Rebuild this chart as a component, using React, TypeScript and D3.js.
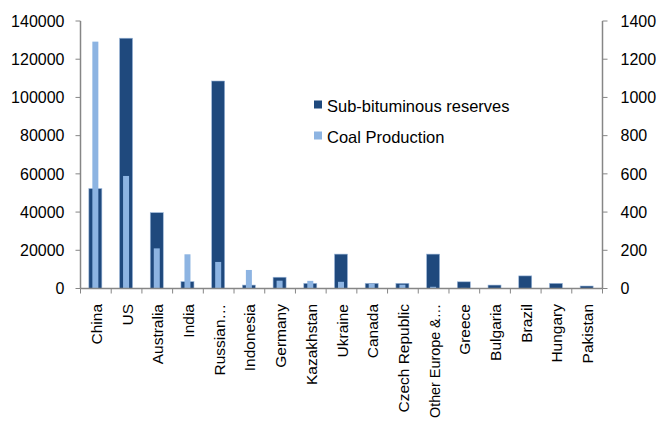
import React from 'react';
import * as d3 from 'd3';

const countries = [
	'China', 'US', 'Australia', 'India', 'Russian…', 'Indonesia', 'Germany', 'Kazakhstan',
	'Ukraine', 'Canada', 'Czech Republic', 'Other Europe &…', 'Greece', 'Bulgaria', 'Brazil',
	'Hungary', 'Pakistan',
];
// left axis
const reserves = [52300, 131000, 39700, 3600, 108600, 1800, 5900, 2700, 18000, 2700, 2700, 18000, 3500, 1800, 6600, 2700, 1300];
// right axis
const production = [1292, 589, 210, 179, 139, 97, 41, 40, 35, 25, 20, 9, 3, 2, 2, 2, 2];
const leftTicks = [0, 20000, 40000, 60000, 80000, 100000, 120000, 140000];
const rightTicks = [0, 200, 400, 600, 800, 1000, 1200, 1400];

const W = 658, H = 423;
const left = 80.5, right = 602.5, top = 21, bottom = 288.5;
const dark = '#1F497D', light = '#8DB4E2', axisCol = '#868686';
const font = '"Liberation Sans", Arial, sans-serif';

const App = () => {
	const x = d3.scaleBand<string>().domain(countries).range([left, right]);
	const yL = d3.scaleLinear().domain([0, 140000]).range([bottom, top]);
	const yR = d3.scaleLinear().domain([0, 1400]).range([bottom, top]);
	const bw = x.bandwidth();
	const edges = countries.map((c) => x(c)!).concat([right]);

	return (
		<svg width={W} height={H} style={{ position: 'absolute', left: 0, top: 0 }} fontFamily={font}>
			{countries.map((c, i) => (
				<g key={c}>
					<rect x={x(c)! + bw / 2 - 7} y={yL(reserves[i])} width={13} height={bottom - yL(reserves[i])}
						fill={dark} stroke="#9db8da" strokeWidth={0.6} />
					<rect x={x(c)! + bw / 2 - 3.5} y={yR(production[i])} width={6} height={bottom - yR(production[i])}
						fill={light} />
				</g>
			))}
			{/* axes */}
			<line x1={left} x2={right} y1={bottom} y2={bottom} stroke={axisCol} strokeWidth={1.5} />
			<line x1={left} x2={left} y1={top} y2={bottom} stroke={axisCol} strokeWidth={1.5} />
			<line x1={right} x2={right} y1={top} y2={bottom} stroke={axisCol} strokeWidth={1.5} />
			{edges.map((e, i) => (
				<line key={i} x1={e} x2={e} y1={bottom} y2={bottom + 5} stroke={axisCol} strokeWidth={1} />
			))}
			{leftTicks.map((t) => (
				<g key={t}>
					<line x1={left - 5} x2={left} y1={yL(t)} y2={yL(t)} stroke={axisCol} strokeWidth={1} />
					<text x={left - 16} y={yL(t)} dy="0.36em" textAnchor="end" fontSize={16} fill="#000">{t}</text>
				</g>
			))}
			{rightTicks.map((t) => (
				<g key={t}>
					<line x1={right} x2={right + 5} y1={yR(t)} y2={yR(t)} stroke={axisCol} strokeWidth={1} />
					<text x={right + 18} y={yR(t)} dy="0.36em" textAnchor="start" fontSize={16} fill="#000">{t}</text>
				</g>
			))}
			{countries.map((c) => (
				<text key={c} transform={`translate(${x(c)! + bw / 2 + 6},${bottom + 15.5}) rotate(-90)`}
					textAnchor="end" fontSize={15.5} fill="#000"
					{...(c.length > 14 ? { textLength: 114, lengthAdjust: 'spacingAndGlyphs' } : {})}>{c}</text>
			))}
			{/* legend */}
			<rect x={314} y={100.5} width={8} height={8} fill={dark} />
			<text x={327} y={112} fontSize={16.5} fill="#000">Sub-bituminous reserves</text>
			<rect x={314} y={131.5} width={8} height={8} fill={light} />
			<text x={327} y={143} fontSize={16.5} fill="#000">Coal Production</text>
		</svg>
	);
};

export default App;
